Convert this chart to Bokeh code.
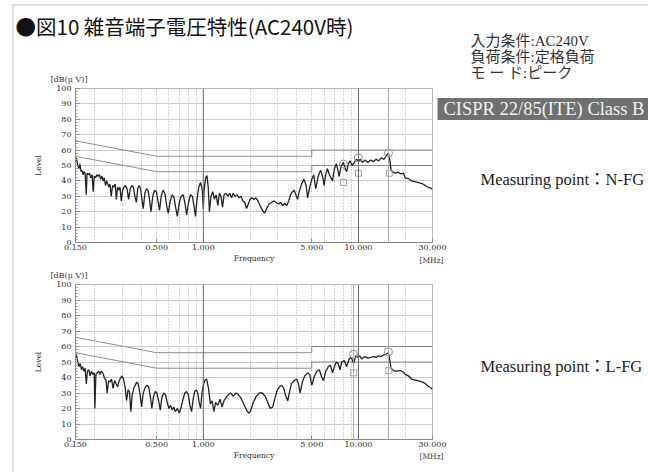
from bokeh.plotting import figure
from bokeh.models import (FixedTicker, PrintfTickFormatter, Span, GridBox,
                          Range1d, BoxAnnotation)
from bokeh.embed import file_html
from bokeh.resources import INLINE
from bokeh.core.properties import value

# ---------------- texts ----------------
title_text = "●図10 雑音端子電圧特性(AC240V時)"
condition_lines = ["入力条件:AC240V", "負荷条件:定格負荷", "モ ー ド:ピーク"]
standard_text = "CISPR 22/85(ITE) Class B"
point_labels = ["Measuring point：N-FG", "Measuring point：L-FG"]
y_unit = "[dB(μ V)]"
x_unit = "[MHz]"

# ---------------- axes ----------------
x_ticks = [0.15, 0.5, 1.0, 5.0, 10.0, 30.0]
x_grid = [0.2, 0.3, 0.4, 0.5, 0.6, 0.7, 0.8, 0.9, 2, 3, 4, 5, 6, 7, 8, 9, 20]
decade_lines = [1.0, 10.0]
y_ticks = list(range(0, 101, 10))
y_minor = list(range(0, 101, 2))

# ---------------- limits (CISPR 22 class B) ----------------
limit_freq = [0.15, 0.5, 5.0, 5.0, 30.0]
limit_qp = [66, 56, 56, 60, 60]
limit_av = [56, 46, 46, 50, 50]

# ---------------- N-FG trace ----------------
nfg_freq = [0.150, 0.152, 0.155, 0.158, 0.160, 0.163, 0.165, 0.168, 0.170, 0.173,
            0.176, 0.178, 0.182, 0.185, 0.188, 0.192, 0.195, 0.198, 0.202, 0.206,
            0.210, 0.214, 0.218, 0.222, 0.226, 0.230, 0.234, 0.238, 0.242, 0.246,
            0.250, 0.255, 0.260, 0.265, 0.270, 0.275, 0.280, 0.285, 0.290, 0.296,
            0.302, 0.308, 0.315, 0.322, 0.330, 0.338, 0.346, 0.354, 0.362, 0.370,
            0.378, 0.386, 0.394, 0.402, 0.410, 0.420, 0.430, 0.440, 0.450, 0.460,
            0.472, 0.485, 0.498, 0.510, 0.522, 0.535, 0.550, 0.565, 0.580, 0.595,
            0.612, 0.630, 0.648, 0.665, 0.680, 0.700, 0.720, 0.740, 0.760, 0.780,
            0.800, 0.825, 0.850, 0.870, 0.890, 0.910, 0.935, 0.960, 0.985, 1.000,
            1.010, 1.035, 1.055, 1.075, 1.095, 1.120, 1.150, 1.180, 1.210, 1.240,
            1.270, 1.300, 1.330, 1.360, 1.400, 1.440, 1.480, 1.520, 1.560, 1.600,
            1.650, 1.700, 1.750, 1.800, 1.850, 1.900, 1.950, 2.000, 2.060, 2.120,
            2.180, 2.250, 2.320, 2.400, 2.480, 2.560, 2.650, 2.750, 2.850, 2.950,
            3.050, 3.150, 3.250, 3.350, 3.450, 3.550, 3.650, 3.750, 3.850, 3.950,
            4.050, 4.150, 4.300, 4.450, 4.600, 4.700, 4.850, 5.000, 5.150, 5.300,
            5.500, 5.700, 5.900, 6.000, 6.150, 6.300, 6.500, 6.800, 7.000, 7.200,
            7.400, 7.500, 7.700, 8.000, 8.200, 8.400, 8.600, 8.800, 9.100, 9.400,
            9.700, 10.00, 10.30, 10.60, 11.00, 11.50, 12.00, 12.50, 13.00, 13.50,
            14.00, 14.60, 15.00, 15.60, 16.00, 16.20, 16.60, 17.20, 18.00, 18.80,
            19.50, 20.00, 21.00, 22.00, 23.00, 24.00, 25.00, 26.00, 27.00, 28.00,
            29.00, 30.00]
nfg_level = [53, 55, 50, 48, 51, 46, 47, 44, 46, 45,
             31, 45, 44, 45, 42, 44, 33, 43, 42, 44,
             43, 44, 41, 43, 40, 42, 37, 40, 38, 36,
             38, 30, 37, 36, 38, 28, 36, 34, 36, 27,
             34, 36, 37, 35, 28, 35, 37, 36, 30, 26,
             35, 37, 35, 28, 22, 32, 35, 34, 28, 20,
             30, 34, 33, 27, 21, 30, 34, 32, 24, 19,
             27, 31, 29, 22, 17, 26, 30, 31, 26, 18,
             25, 31, 30, 24, 17, 28, 36, 39, 34, 22,
             33, 42, 43.5, 36, 20, 30, 33, 28, 31, 24,
             32, 30, 23, 31, 32, 30, 32, 29, 32, 30,
             31, 29, 30, 27, 26, 22, 25, 28, 29, 28,
             29, 27, 24, 21, 19, 22, 25, 26, 27, 26,
             25, 26, 24, 25.5, 24, 27, 31, 33, 34, 31,
             28, 33, 38, 41, 37, 29, 36, 41, 44, 35,
             43, 47, 42, 37, 44, 48, 44, 40, 48, 51,
             46, 43, 49, 52, 48, 46, 51, 53, 50, 52,
             54, 53, 54, 52, 53.5, 52, 53.5, 52.5, 54, 53,
             55, 54, 56, 58, 52, 47, 46, 45, 45.5, 44.5,
             45, 42, 41.5, 40, 39.5, 39, 38.5, 38, 37, 36,
             35.5, 34.5]

# ---------------- L-FG trace ----------------
lfg_freq = [0.150, 0.152, 0.155, 0.158, 0.161, 0.164, 0.167, 0.170, 0.173, 0.176,
            0.179, 0.183, 0.186, 0.190, 0.194, 0.198, 0.200, 0.203, 0.207, 0.212,
            0.216, 0.220, 0.225, 0.230, 0.236, 0.240, 0.245, 0.250, 0.256, 0.262,
            0.268, 0.274, 0.280, 0.287, 0.294, 0.300, 0.306, 0.313, 0.320, 0.327,
            0.334, 0.341, 0.348, 0.356, 0.364, 0.372, 0.380, 0.390, 0.400, 0.410,
            0.420, 0.432, 0.444, 0.455, 0.466, 0.478, 0.490, 0.502, 0.515, 0.528,
            0.540, 0.555, 0.570, 0.585, 0.600, 0.615, 0.630, 0.645, 0.660, 0.680,
            0.700, 0.720, 0.740, 0.760, 0.780, 0.800, 0.820, 0.840, 0.860, 0.880,
            0.900, 0.920, 0.940, 0.960, 0.980, 1.000, 1.020, 1.050, 1.080, 1.110,
            1.140, 1.170, 1.200, 1.240, 1.280, 1.320, 1.360, 1.400, 1.450, 1.500,
            1.560, 1.620, 1.680, 1.740, 1.800, 1.860, 1.920, 1.980, 2.040, 2.100,
            2.200, 2.300, 2.400, 2.500, 2.600, 2.700, 2.800, 2.900, 3.000, 3.100,
            3.200, 3.300, 3.400, 3.500, 3.600, 3.700, 3.850, 4.000, 4.100, 4.200,
            4.350, 4.500, 4.700, 4.850, 5.000, 5.200, 5.400, 5.600, 5.800, 5.950,
            6.150, 6.400, 6.600, 6.800, 7.000, 7.200, 7.400, 7.600, 7.800, 8.100,
            8.400, 8.700, 9.000, 9.300, 9.600, 9.900, 10.20, 10.50, 11.00, 11.50,
            12.00, 12.50, 13.00, 13.50, 14.00, 14.50, 15.00, 15.60, 16.00, 16.20,
            16.80, 17.50, 18.50, 19.50, 20.00, 21.00, 22.00, 23.00, 24.00, 25.00,
            26.00, 27.00, 28.00, 29.00, 30.00]
lfg_level = [53, 55, 50, 47, 49, 45, 47, 44, 46, 36,
             44, 45, 41, 44, 42, 43, 20, 42, 43, 44,
             42, 44, 43, 40, 38, 30, 38, 37, 39, 33,
             38, 36, 34, 38, 40, 41, 39, 34, 25, 32,
             31, 18, 29, 33, 35, 37, 36, 30, 21, 30,
             33, 35, 34, 28, 20, 28, 31, 30, 25, 19,
             27, 30, 29, 24, 20, 22, 19, 21, 18, 20,
             17, 21, 26, 30, 31, 29, 22, 18, 26, 31,
             32, 30, 24, 20, 30, 35, 38, 39, 33, 23,
             25, 18, 24, 22, 26, 21, 25, 27, 29, 30,
             28, 30, 29, 27, 24, 21, 18, 17, 20, 24,
             28, 30, 30, 28, 24, 20, 21, 27, 32, 34,
             35, 33, 28, 25, 31, 36, 38, 39, 36, 30,
             37, 41, 43, 42, 35, 41, 44, 45, 40, 38,
             44, 47, 48, 43, 47, 50, 49, 45, 50, 51,
             47, 52, 53, 49, 54, 53, 54, 52, 53.5, 52.5,
             53, 53.5, 53, 54, 53.5, 54.5, 55, 56, 50, 46,
             44.5, 44, 44.5, 43.5, 42, 41, 39, 38.5, 38, 37.5,
             37, 36, 34.5, 33.5, 32.5]

# ---------------- measured markers ----------------
nfg_peak_freq = [8.0, 10.0, 15.6]
nfg_peak_level = [51, 55, 58]
nfg_avg_freq = [8.0, 10.0, 15.8]
nfg_avg_level = [39, 45, 45]
nfg_marker_lines = [15.6]

lfg_peak_freq = [9.3, 15.6]
lfg_peak_level = [55, 56.5]
lfg_avg_freq = [9.3, 15.7]
lfg_avg_level = [43, 44.5]
lfg_marker_lines = [9.3, 15.6]

SERIF = "DejaVu Serif"
TXT_SERIF = "Liberation Serif, Noto Sans CJK JP"
CJK = "Noto Sans CJK JP"
W, H = 648, 472


def panel(freq, level, pk_f, pk_l, av_f, av_l, marker_lines, height, top, bottom):
    p = figure(width=W, height=height, x_axis_type="log",
               x_range=(0.15, 30), y_range=(0, 100),
               output_backend="svg", toolbar_location=None,
               min_border_left=75, min_border_right=216,
               min_border_top=top, min_border_bottom=bottom)
    p.outline_line_color = "#b8b8b8"
    p.background_fill_color = "white"
    p.border_fill_color = "white"

    p.xgrid.ticker = FixedTicker(ticks=x_grid)
    p.xgrid.grid_line_color = "#a4a4a4"
    p.xgrid.grid_line_dash = "1 2"
    p.ygrid.ticker = FixedTicker(ticks=y_ticks)
    p.ygrid.grid_line_color = "#cdcdcd"

    for d in decade_lines:
        p.add_layout(Span(location=d, dimension="height", line_color="#666666", line_width=1))
    for m in marker_lines:
        p.add_layout(Span(location=m, dimension="height", line_color="#a8a8a8", line_width=1))

    xa = p.xaxis[0]
    xa.ticker = FixedTicker(ticks=x_ticks, minor_ticks=[])
    xa.formatter = PrintfTickFormatter(format="%.3f")
    xa.axis_label = "Frequency"
    ya = p.yaxis[0]
    ya.ticker = FixedTicker(ticks=y_ticks, minor_ticks=y_minor)
    ya.axis_label = "Level"
    for ax in (xa, ya):
        ax.axis_line_color = "#8a8a8a"
        ax.major_tick_line_color = "#8a8a8a"
        ax.minor_tick_line_color = "#9a9a9a"
        ax.major_tick_in = 4
        ax.major_tick_out = 0
        ax.minor_tick_in = 2
        ax.minor_tick_out = 0
        ax.major_label_text_font = SERIF
        ax.major_label_text_font_size = "8px"
        ax.major_label_text_color = "#2a2a2a"
        ax.axis_label_text_font = SERIF
        ax.axis_label_text_font_size = "7.5px"
        ax.axis_label_text_font_style = "normal"
        ax.axis_label_text_color = "#2a2a2a"
    xa.major_label_standoff = 2
    xa.axis_label_standoff = 1
    ya.major_label_standoff = 4
    ya.axis_label_standoff = 10

    p.line(limit_freq, limit_qp, line_color="#8c8c8c", line_width=1)
    p.line(limit_freq, limit_av, line_color="#8c8c8c", line_width=1)

    p.line(freq, level, line_color="#222222", line_width=1.3)

    p.scatter(pk_f, pk_l, marker="circle", size=8, fill_color=None,
              line_color="#8f8f8f", line_width=1)
    p.scatter(av_f, av_l, marker="square", size=6, fill_color=None,
              line_color="#a0a0a0", line_width=1)
    return p


p1 = panel(nfg_freq, nfg_level, nfg_peak_freq, nfg_peak_level,
           nfg_avg_freq, nfg_avg_level, nfg_marker_lines, 270, 88, 28)
p2 = panel(lfg_freq, lfg_level, lfg_peak_freq, lfg_peak_level,
           lfg_avg_freq, lfg_avg_level, lfg_marker_lines, 202, 14, 33)

# ---------- transparent overlay carrying the page texts (page pixel coords) ----------
ov = figure(width=W, height=H, x_range=Range1d(0, W), y_range=Range1d(H, 0),
            output_backend="svg", toolbar_location=None,
            x_axis_location=None, y_axis_location=None, min_border=0)
ov.frame_align = False
ov.grid.visible = False
ov.outline_line_color = None
ov.background_fill_color = None
ov.border_fill_color = None

# page frame
ov.add_layout(BoxAnnotation(left=12.5, right=W + 20, top=4.5, bottom=H + 20,
                            fill_alpha=0, line_color="#333333", line_width=1))
# standard name box
ov.add_layout(BoxAnnotation(left=437, right=W + 20, top=97.5, bottom=119.5,
                            fill_color="#6e7072", fill_alpha=1, line_color=None,
                            level="underlay"))

ov.text(x=[15], y=[25], text=[title_text], text_font=value(CJK),
        text_font_size="20.5px", text_color="#111111", text_baseline="middle")
ov.text(x=[470, 470, 470], y=[40, 56, 72], text=condition_lines,
        text_font=value(TXT_SERIF), text_font_size="15px",
        text_color="#333333", text_baseline="middle")
ov.text(x=[443], y=[108.5], text=[standard_text], text_font=value("Liberation Serif"),
        text_font_size="18.5px", text_color="#f2f2f2", text_baseline="middle")
ov.text(x=[480, 480], y=[179, 366], text=point_labels, text_font=value(TXT_SERIF),
        text_font_size="16.5px", text_color="#222222", text_baseline="middle")
ov.text(x=[50, 50], y=[79, 275], text=[y_unit, y_unit], text_font=value(SERIF),
        text_font_size="8px", text_color="#3a3a3a", text_baseline="middle")
ov.text(x=[431, 431], y=[260, 456], text=[x_unit, x_unit], text_font=value(SERIF),
        text_font_size="7.5px", text_color="#3a3a3a", text_baseline="middle",
        text_align="center")

layout = GridBox(children=[(p1, 0, 0), (p2, 1, 0), (ov, 0, 0, 2, 1)], spacing=0)

open("out.html", "w").write(file_html(layout, INLINE))
